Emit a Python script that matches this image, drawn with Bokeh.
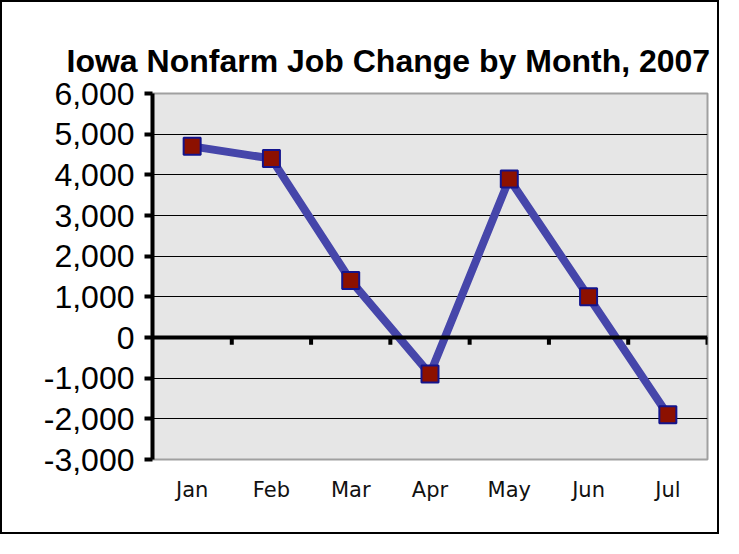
from bokeh.plotting import figure
from bokeh.models import FixedTicker, NumeralTickFormatter, Span, Range1d
from bokeh.embed import file_html
from bokeh.resources import INLINE

# ---- data ----
months = ["Jan", "Feb", "Mar", "Apr", "May", "Jun", "Jul"]
job_change = [4700, 4400, 1400, -900, 3900, 1000, -1900]
y_ticks = [-3000, -2000, -1000, 0, 1000, 2000, 3000, 4000, 5000, 6000]
title_text = "Iowa Nonfarm Job Change by Month, 2007"

n = len(months)
xs = [i + 0.5 for i in range(n)]
boundaries = [i + 1 for i in range(n)]

p = figure(width=719, height=534, output_backend="svg", toolbar_location=None,
           x_range=Range1d(0, n), y_range=Range1d(y_ticks[0], y_ticks[-1]),
           min_border_left=150, min_border_right=14, min_border_top=91,
           min_border_bottom=77, title=title_text,
           styles={"border": "2px solid black"})

p.title.text_font = "Liberation Sans"
p.title.text_font_style = "bold"
p.title.text_font_size = "32px"
p.title.align = "left"
p.title.offset = -86
p.title.standoff = 30
p.title.text_color = "black"

p.background_fill_color = "#E6E6E6"
p.border_fill_color = "white"
p.outline_line_color = "#A0A0A0"
p.outline_line_width = 2

# grid
p.xgrid.visible = False
p.ygrid.ticker = FixedTicker(ticks=y_ticks)
p.ygrid.grid_line_color = "black"
p.ygrid.grid_line_width = 1

# y axis
p.yaxis.ticker = FixedTicker(ticks=y_ticks)
p.yaxis.formatter = NumeralTickFormatter(format="0,0")
p.yaxis.axis_line_color = "black"
p.yaxis.axis_line_width = 4
p.yaxis.major_tick_line_color = "black"
p.yaxis.major_tick_line_width = 4
p.yaxis.major_tick_out = 8
p.yaxis.major_tick_in = 0
p.yaxis.minor_tick_line_color = None
p.yaxis.major_label_text_font = "Liberation Sans"
p.yaxis.major_label_text_font_size = "32px"
p.yaxis.major_label_text_color = "black"
p.yaxis.major_label_standoff = 10

# x axis (labels only, at bottom)
p.xaxis.ticker = FixedTicker(ticks=xs)
p.xaxis.major_label_overrides = {x: m for x, m in zip(xs, months)}
p.xaxis.axis_line_color = None
p.xaxis.major_tick_line_color = None
p.xaxis.minor_tick_line_color = None
p.xaxis.major_label_text_font = "DejaVu Sans"
p.xaxis.major_label_text_font_size = "21px"
p.xaxis.major_label_text_color = "#111111"
p.xaxis.major_label_standoff = 12

# zero line with category boundary ticks
zero = Span(location=0, dimension="width", line_color="black", line_width=4)
p.add_layout(zero)
tick_len = 180
p.segment(x0=boundaries, y0=[0] * n, x1=boundaries, y1=[-tick_len] * n,
          line_color="black", line_width=4)

# series
p.line(xs, job_change, line_color="#4646AA", line_width=8)
p.scatter(xs, job_change, marker="square", size=17, fill_color="#8C1000",
          line_color="#14148C", line_width=2)

open("out.html", "w").write(file_html(p, INLINE))
